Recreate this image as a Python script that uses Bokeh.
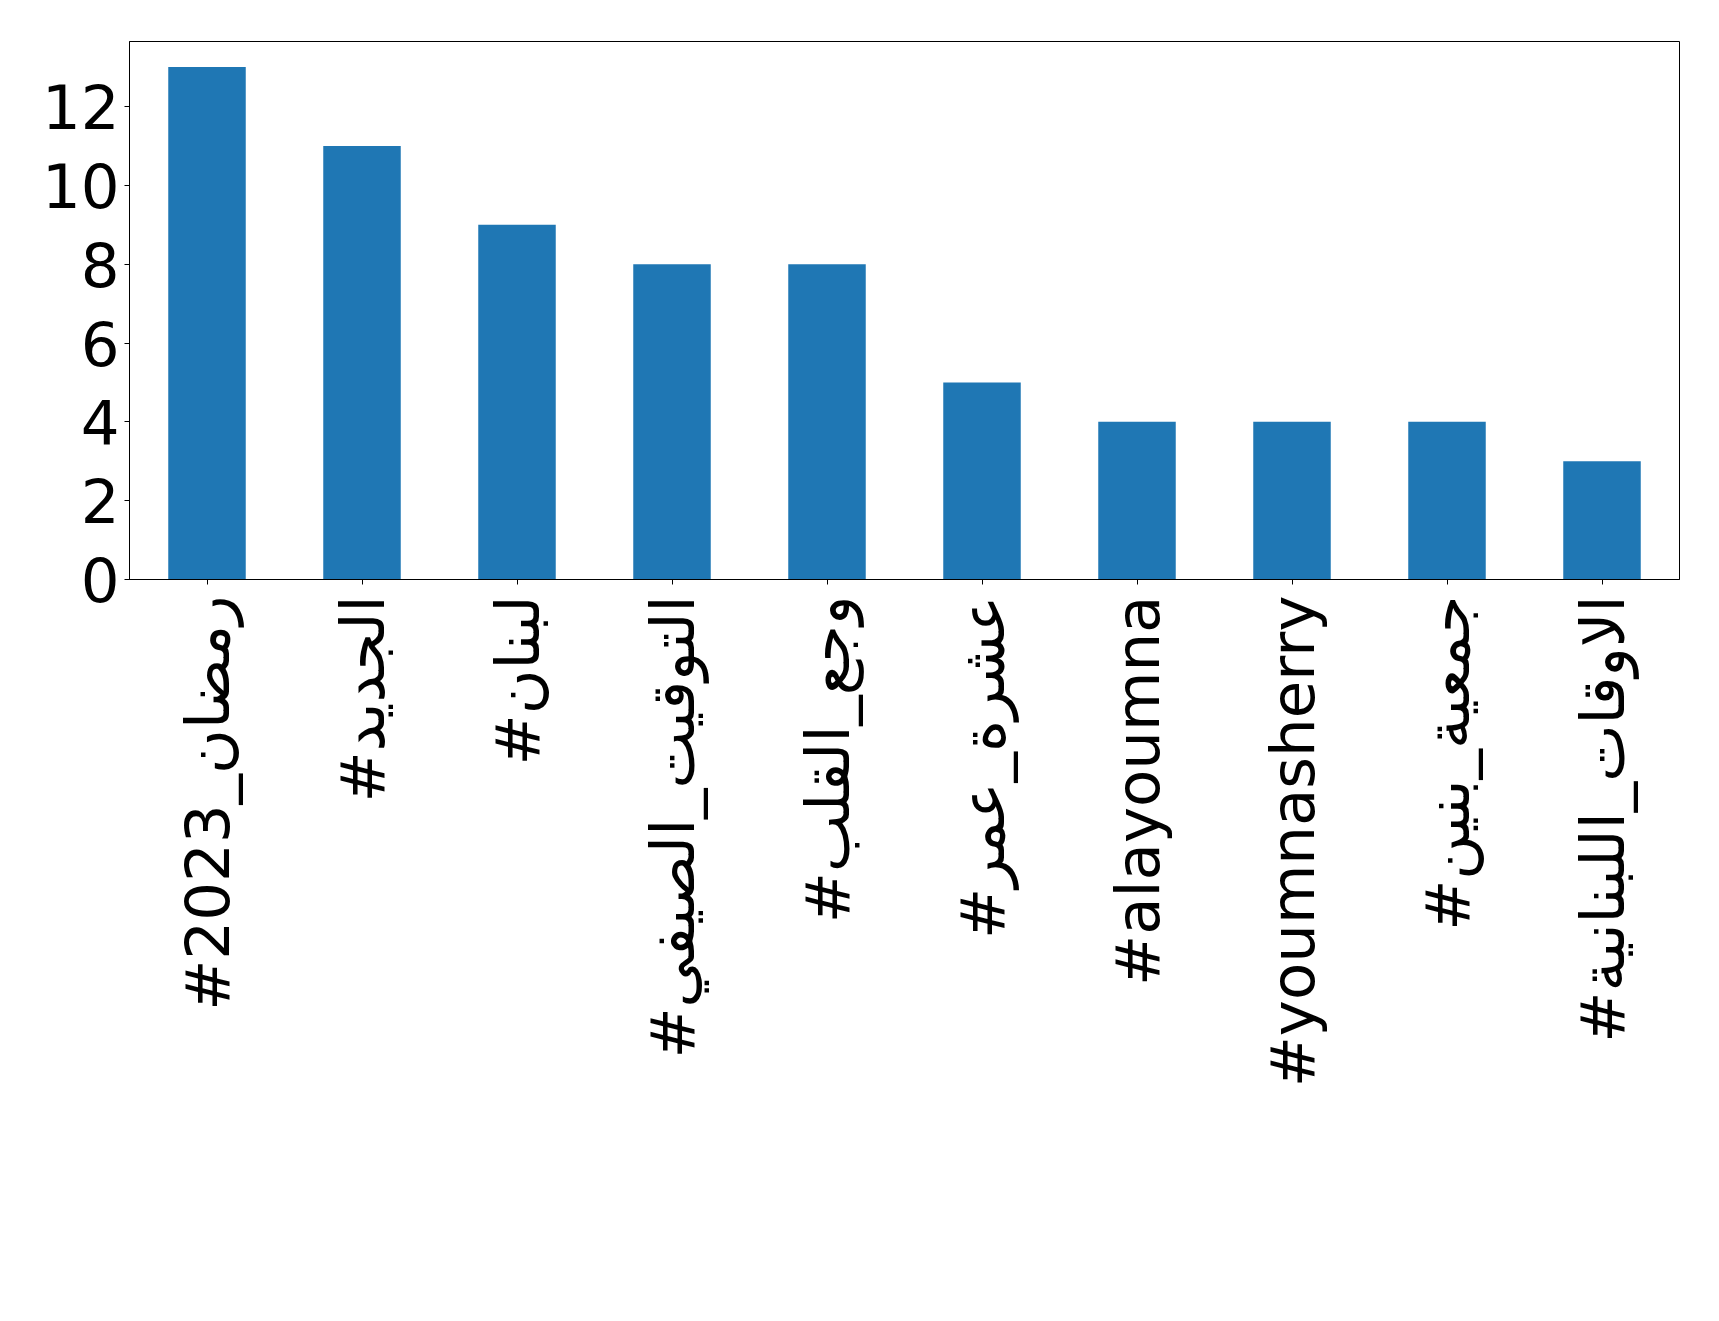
import math
from bokeh.plotting import figure
from bokeh.models import Range1d, FactorRange, FixedTicker
from bokeh.embed import file_html
from bokeh.resources import INLINE

hashtags = [
    "#رمضان_2023",
    "#الجديد",
    "#لبنان",
    "#التوقيت_الصيفي",
    "#وجع_القلب",
    "#عشرة_عمر",
    "#alayoumna",
    "#youmnasherry",
    "#جمعية_بنين",
    "#الاوقات_اللبنانية",
]
counts = [13, 11, 9, 8, 8, 5, 4, 4, 4, 3]
y_ticks = [0, 2, 4, 6, 8, 10, 12]

FONT = "DejaVu Sans"

p = figure(
    x_range=FactorRange(factors=hashtags),
    y_range=Range1d(0, 13.65),
    width=1703, height=1305,
    output_backend="svg", toolbar_location=None,
    min_border_left=129, min_border_right=24,
    min_border_top=41, min_border_bottom=726,
)

p.vbar(x=hashtags, top=counts, width=0.5, color="#1f77b4", line_color=None)

p.xgrid.visible = False
p.ygrid.visible = False
p.outline_line_color = "black"
p.outline_line_width = 1
p.background_fill_color = "white"
p.border_fill_color = "white"

for ax in (p.xaxis, p.yaxis):
    ax.axis_line_color = "black"
    ax.major_tick_line_color = "black"
    ax.major_tick_out = 5
    ax.major_tick_in = 0
    ax.minor_tick_line_color = None
    ax.major_label_text_font = FONT
    ax.major_label_text_font_size = "61px"
    ax.major_label_text_color = "black"
    ax.major_label_standoff = 5

p.yaxis.ticker = FixedTicker(ticks=y_ticks)
p.xaxis.major_label_orientation = math.pi / 2
p.xaxis.major_label_standoff = 11

open("out.html", "w").write(file_html(p, INLINE))
